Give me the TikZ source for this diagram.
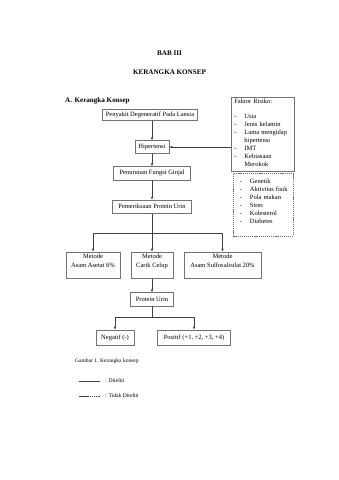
\documentclass[tikz,border=0pt]{standalone}
\usepackage{fontspec}
\setmainfont{Liberation Serif}
\usepackage{tikz}
\usetikzlibrary{arrows.meta, positioning}

\begin{document}
\begin{tikzpicture}[
      x=1pt, y=-1pt,
      every node/.style={font=\fontsize{6.5}{7.7}\selectfont, inner sep=2pt},
      judul/.style={font=\fontsize{7.1}{8}\selectfont\bfseries},
      box/.style={draw=black!55, line width=0.6pt, minimum height=13.3pt},
      metode/.style={box, align=center, font=\fontsize{6.5}{9}\selectfont},
      arr/.style={-{Latex[length=3pt,width=2.6pt]}, draw=black!75, line width=0.6pt},
      garis/.style={draw=black!75, line width=0.6pt}
    ]
      \useasboundingbox (0,0) rectangle (339,480);

      % judul
      \node[judul] (bab) at (169.5,53) {BAB III};
      \node[judul] (kerangka) at (169.5,72) {KERANGKA KONSEP};
      \node[judul, anchor=west] (subbab) at (63,101) {A.\hspace{2.5pt}Kerangka Konsep};

      % alur utama
      \node[box, minimum width=95pt, minimum height=11.5pt] (penyakit) at (150,114.7) {Penyakit Degeneratif Pada Lansia};
      \node[box, minimum width=34pt, minimum height=12.6pt] (hipertensi) at (152,147) {Hipertensi};
      \node[box, minimum width=77pt] (penurunan) at (152,173.3) {Penurunan Fungsi Ginjal};
      \node[box, minimum width=79pt] (pemeriksaan) at (152,206.7) {Pemeriksaan Protein Urin};

      % faktor risiko
      \node[box, anchor=north west, text width=57pt, align=left, inner xsep=3pt, inner ysep=2pt] (faktor) at (231,97)
        {Faktor Risiko:\\[7pt]
         \renewcommand\arraystretch{1.04}%
         \begin{tabular}[t]{@{}l@{\hspace{8pt}}l@{}}
           - & Usia\\
           - & Jenis kelamin\\
           - & Lama mengidap\\
             & hipertensi\\
           - & IMT\\
           - & Kebiasaan\\
             & Merokok
         \end{tabular}};
      \node[box, dash pattern=on 1.2pt off 0.9pt, below=2pt of faktor.south west, anchor=north west, xshift=2pt,
            text width=47pt, align=left, inner xsep=6.5pt, inner ysep=4pt, text depth=49pt] (lain)
        {\renewcommand\arraystretch{1.05}%
         \begin{tabular}[t]{@{}l@{\hspace{8pt}}l@{}}
           - & Genetik\\
           - & Aktivitas fisik\\
           - & Pola makan\\
           - & Stres\\
           - & Kolesterol\\
           - & Diabetes
         \end{tabular}};

      % metode
      \node[metode, minimum width=54pt] (metode1) at (93,265.3) {Metode\\Asam Asetat 6\%\\\mbox{}};
      \node[metode, minimum width=42.3pt] (metode2) at (152,265.3) {Metode\\Carik Celup\\\mbox{}};
      \node[metode, minimum width=77pt] (metode3) at (222.5,265.3) {Metode\\Asam Sulfosalisilat 20\%\\\mbox{}};

      \node[box, minimum width=43pt] (protein) at (152,299.3) {Protein Urin};
      \node[box, minimum width=38.3pt, minimum height=15pt] (negatif) at (115,337.5) {Negatif (-)};
      \node[box, minimum width=73pt, minimum height=15pt] (positif) at (194,337.5) {Positif (+1, +2, +3, +4)};

      % panah
      \draw[arr] (penyakit.south -| hipertensi) -- (hipertensi);
      \draw[arr] (faktor.west |- hipertensi) -- (hipertensi);
      \draw[arr] (hipertensi) -- (penurunan);
      \draw[arr] (penurunan) -- (pemeriksaan);
      \coordinate (cabang1) at (152,233.5);
      \draw[garis] (pemeriksaan) -- (cabang1);
      \draw[arr] (cabang1) -| (metode1);
      \draw[arr] (cabang1) -- (metode2);
      \draw[arr] (cabang1) -| (metode3);
      \draw[arr] (metode2) -- (protein);
      \coordinate (cabang2) at (152,317.7);
      \draw[garis] (protein) -- (cabang2);
      \draw[arr] (cabang2) -| (negatif);
      \draw[arr] (cabang2) -| (positif);

      % keterangan
      \node[anchor=west, font=\fontsize{5.5}{6}\selectfont] (gambar) at (73,361) {Gambar 1. Kerangka konsep};
      \coordinate (ket1a) at (79,381);
      \coordinate (ket1b) at (100,381);
      \draw[garis] (ket1a) -- (ket1b);
      \node[anchor=west, font=\fontsize{5.6}{6}\selectfont] (diteliti) at (103,381) {: Diteliti};
      \coordinate (ket2a) at (79,396);
      \coordinate (ket2b) at (100,396);
      \draw[garis, dash pattern=on 1.6pt off 0.5pt] (ket2a) -- (ket2b);
      \node[anchor=west, font=\fontsize{5.6}{6}\selectfont] (tidak) at (103,396) {: Tidak Diteliti};
    \end{tikzpicture}
\end{document}
